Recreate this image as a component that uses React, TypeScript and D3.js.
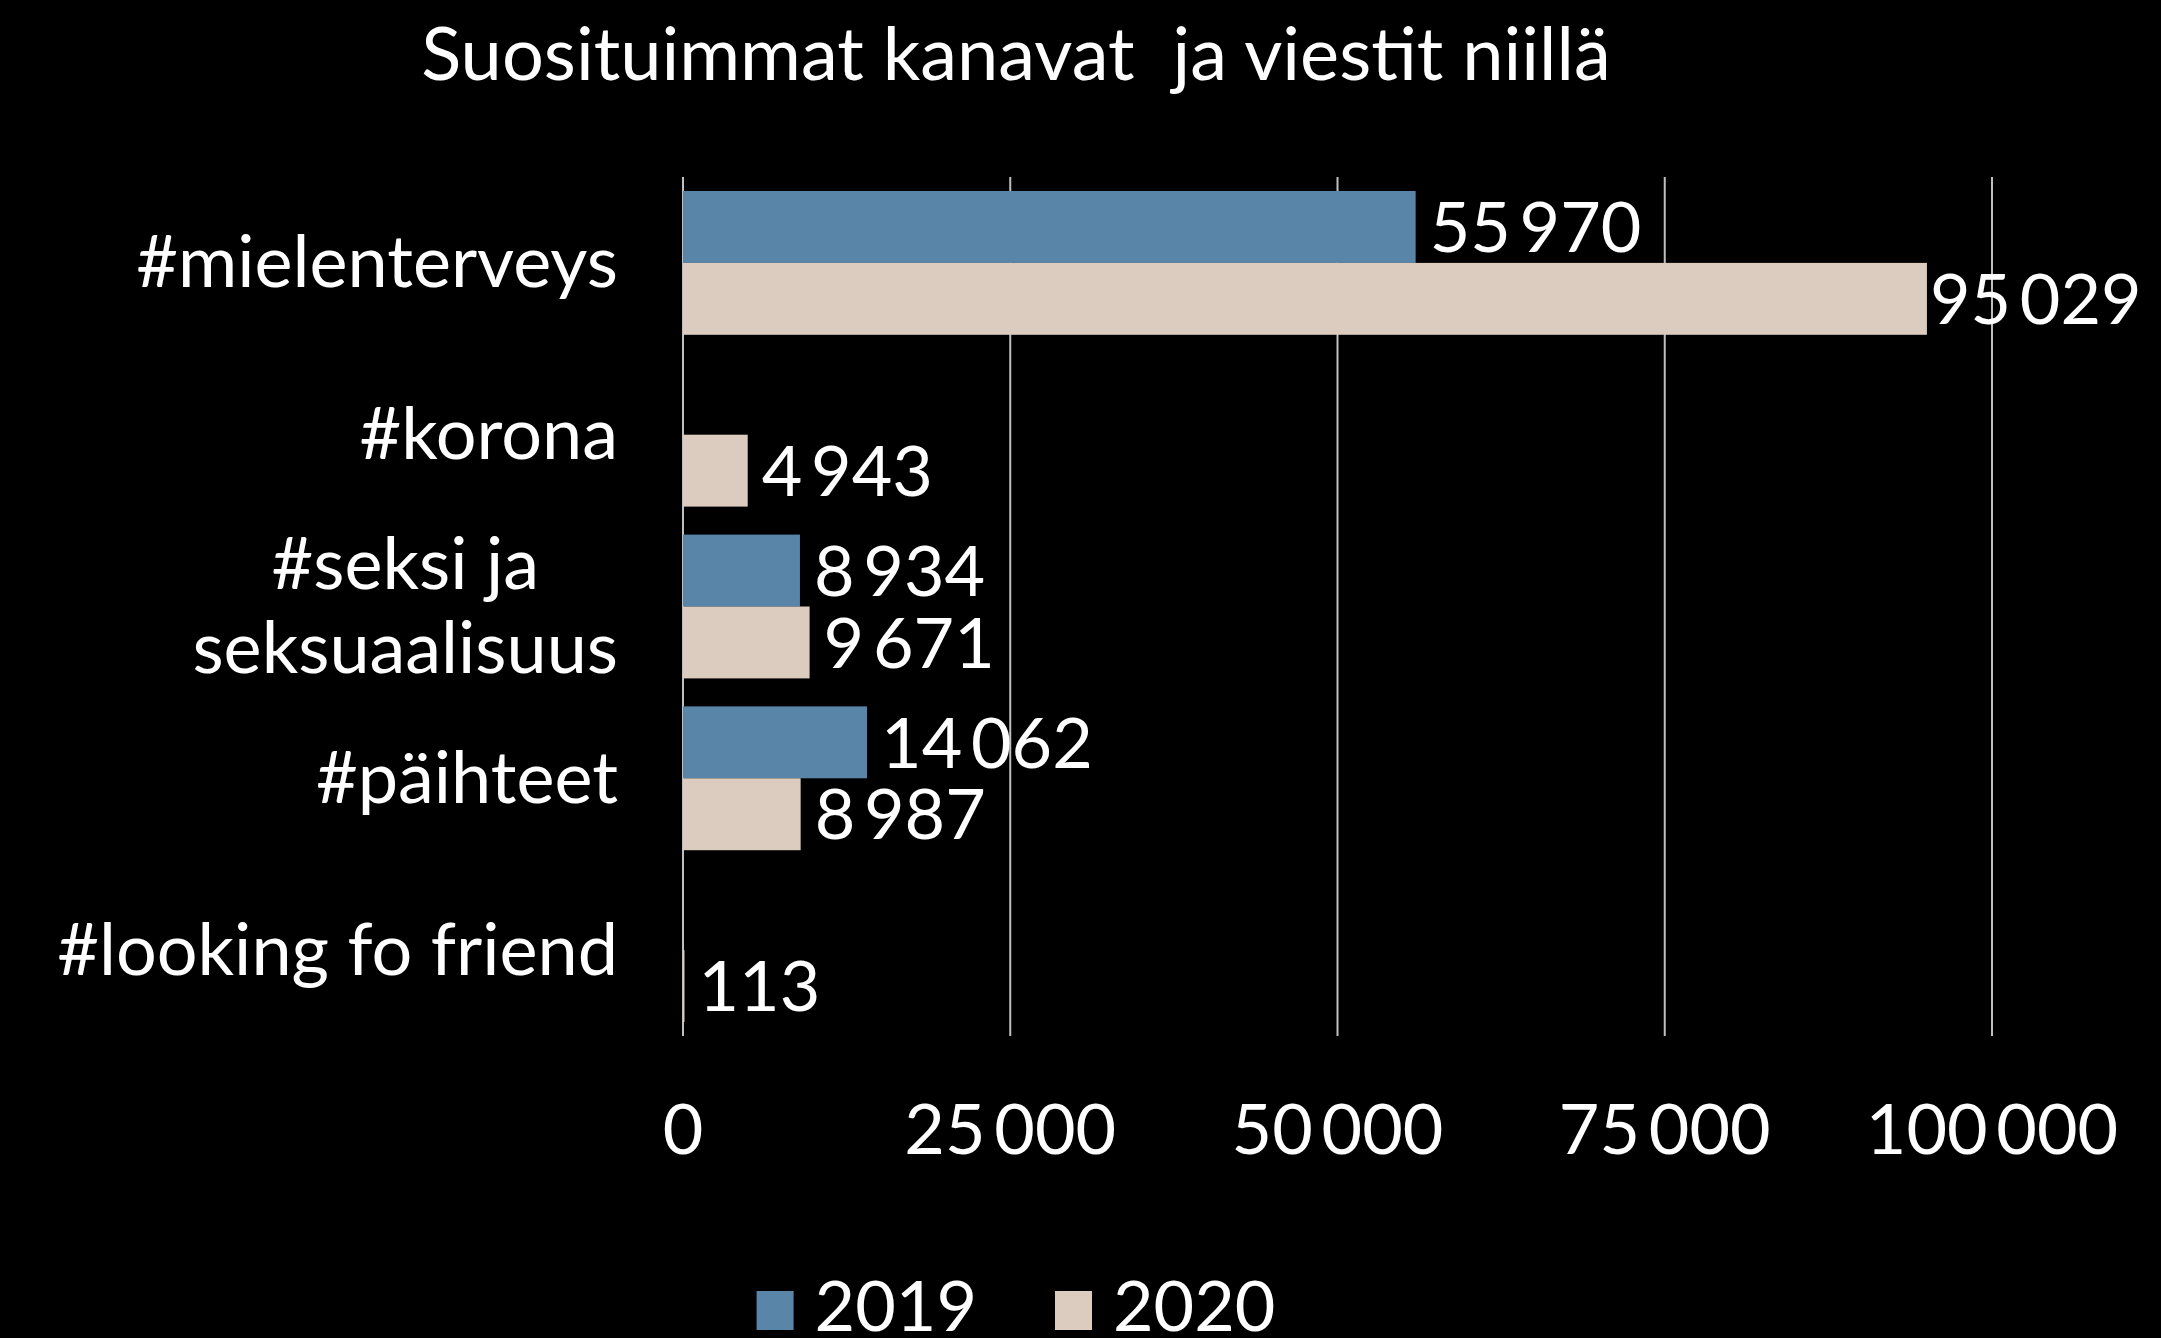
import React, { useEffect, useRef } from "react";
import * as d3 from "d3";

const WIDTH = 2161;
const HEIGHT = 1338;
const FONT = "Lato, 'Open Sans', sans-serif";

const TITLE = "Suosituimmat kanavat\u00a0 ja viestit niillä";
const categories = ["#mielenterveys", "#korona", "#seksi ja\nseksuaalisuus", "#päihteet", "#looking fo friend"];
const seriesNames = ["2019", "2020"];
const values2019 = [55970, null, 8934, 14062, null];
const values2020 = [95029, 4943, 9671, 8987, 113];
const xTicks = [0, 25000, 50000, 75000, 100000];
const colors = ["#5985a9", "#dbccbf"];

// Finnish style grouping, thin space between groups
const fiLocale = d3.formatLocale({ decimal: ",", thousands: "\u2009", grouping: [3], currency: ["", " €"] });
const fmt = fiLocale.format(",d");

export default function App() {
  const ref = useRef<SVGSVGElement>(null);

  useEffect(() => {
    document.body.style.margin = "0";
    document.body.style.background = "#000";
    const svg = d3.select(ref.current);
    svg.selectAll("*").remove();

    const margin = { top: 177, right: 169, bottom: 302, left: 683 };
    const centerX = 1016;
    const fs = 72;
    const numFs = 70;

    const x = d3.scaleLinear().domain([0, 100000]).range([margin.left, WIDTH - margin.right]);
    const y = d3
      .scaleBand<string>()
      .domain(categories)
      .range([margin.top, HEIGHT - margin.bottom])
      .paddingInner(0.163)
      .paddingOuter(0.0815);
    const inner = d3.scaleBand<string>().domain(seriesNames).range([0, y.bandwidth()]);

    svg.append("rect").attr("width", WIDTH).attr("height", HEIGHT).attr("fill", "#000");

    // title
    svg
      .append("text")
      .attr("x", centerX)
      .attr("y", 80)
      .attr("text-anchor", "middle")
      .attr("fill", "#fff")
      .attr("font-size", 74)
      .attr("font-family", FONT)
      .text(TITLE);

    // grid
    svg
      .append("g")
      .selectAll("line")
      .data(xTicks)
      .join("line")
      .attr("x1", (d) => x(d))
      .attr("x2", (d) => x(d))
      .attr("y1", margin.top)
      .attr("y2", HEIGHT - margin.bottom)
      .attr("stroke", "#bfbfbf")
      .attr("stroke-width", 2);

    // tick labels
    svg
      .append("g")
      .selectAll("text")
      .data(xTicks)
      .join("text")
      .attr("x", (d) => x(d))
      .attr("y", 1154)
      .attr("text-anchor", "middle")
      .attr("fill", "#fff")
      .attr("font-size", numFs)
      .attr("font-family", FONT)
      .text((d) => fmt(d));

    // bars
    const series = [values2019, values2020];
    series.forEach((vals, si) => {
      const g = svg.append("g");
      const rows = categories
        .map((c, i) => ({ c, v: vals[i] }))
        .filter((d) => d.v != null) as { c: string; v: number }[];
      g.selectAll("rect")
        .data(rows)
        .join("rect")
        .attr("x", x(0))
        .attr("y", (d) => (y(d.c) as number) + (inner(seriesNames[si]) as number))
        .attr("width", (d) => Math.max(1, x(d.v) - x(0)))
        .attr("height", inner.bandwidth())
        .attr("fill", colors[si]);

      g.selectAll("text")
        .data(rows)
        .join("text")
        .attr("y", (d) => (y(d.c) as number) + (inner(seriesNames[si]) as number) + inner.bandwidth() / 2)
        .attr("dy", "0.36em")
        .attr("fill", "#fff")
        .attr("font-size", numFs)
        .attr("font-family", FONT)
        .text((d) => fmt(d.v))
        .each(function (d) {
          const el = this as SVGTextElement;
          const w = el.getComputedTextLength();
          let px = x(d.v) + 14;
          if (px + w > WIDTH - 25) px = x(d.v) + 3;
          d3.select(el).attr("x", px);
        });
    });

    // category labels
    const labelRight = 618;
    const lineH = 84;
    const cat = svg.append("g");
    categories.forEach((c) => {
      const lines = c.split("\n");
      const cy = (y(c) as number) + y.bandwidth() / 2;
      const t = cat
        .append("text")
        .attr("fill", "#fff")
        .attr("font-size", fs)
        .attr("font-family", FONT)
        .attr("text-anchor", "middle");
      const spans = lines.map((ln, i) =>
        t
          .append("tspan")
          .attr("y", cy + fs * 0.34 + (i - (lines.length - 1) / 2) * lineH)
          .text(ln)
      );
      const maxW = d3.max(spans, (s) => (s.node() as SVGTSpanElement).getComputedTextLength()) || 0;
      spans.forEach((s) => s.attr("x", labelRight - maxW / 2));
    });

    // legend
    const leg = svg.append("g");
    const sw = 37;
    const gapText = 21;
    const gapItem = 78;
    const items = seriesNames.map((name, i) => {
      const gi = leg.append("g");
      gi.append("rect").attr("y", 1291).attr("width", sw).attr("height", 39).attr("fill", colors[i]);
      const t = gi
        .append("text")
        .attr("x", sw + gapText)
        .attr("y", 1331)
        .attr("fill", "#fff")
        .attr("font-size", numFs)
        .attr("font-family", FONT)
        .text(name);
      return { gi, w: sw + gapText + (t.node() as SVGTextElement).getComputedTextLength() };
    });
    const total = d3.sum(items, (d) => d.w) + gapItem * (items.length - 1);
    let cx = centerX - total / 2;
    items.forEach((it) => {
      it.gi.attr("transform", `translate(${cx},0)`);
      cx += it.w + gapItem;
    });
  }, []);

  return (
    <svg
      ref={ref}
      width={WIDTH}
      height={HEIGHT}
      style={{ position: "absolute", left: 0, top: 0, display: "block" }}
    />
  );
}
